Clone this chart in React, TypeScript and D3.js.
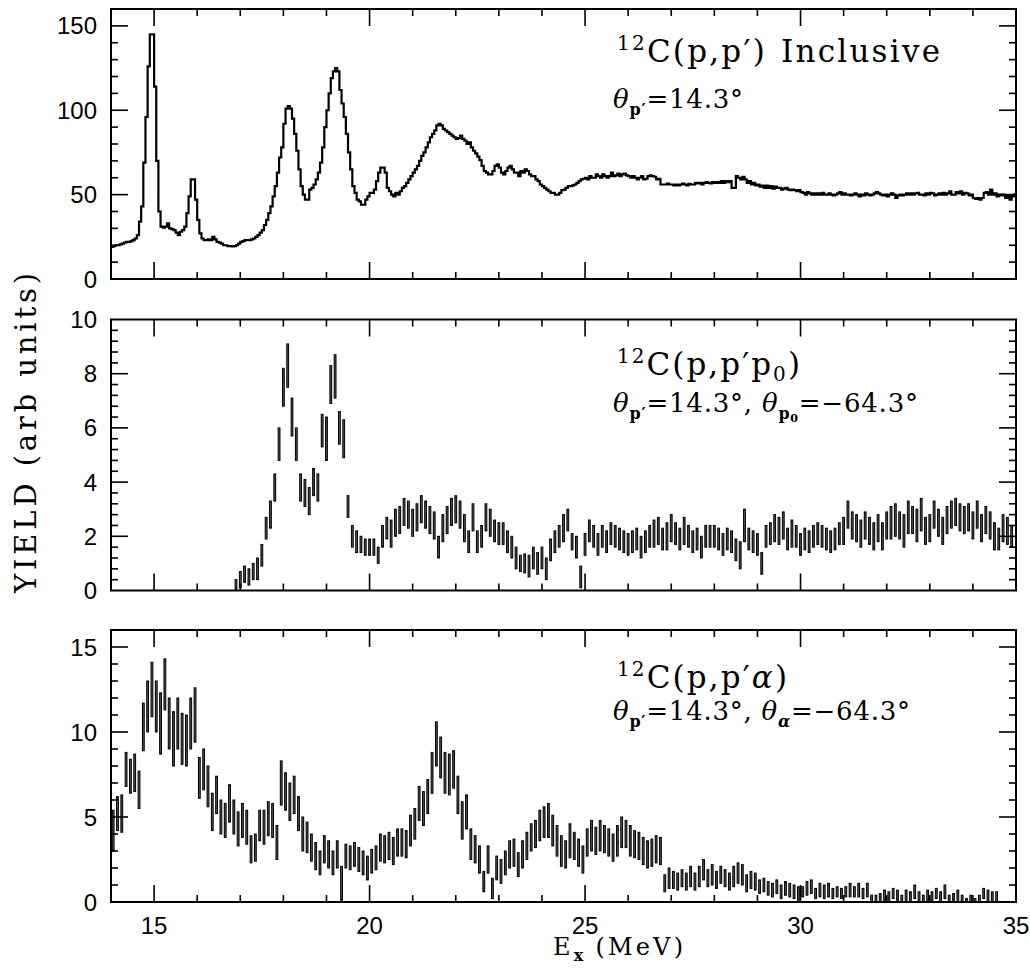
import React from "react";
import * as d3 from "d3";

// ---------- axes ----------
const X_DOMAIN = [14, 35];
const X_MINOR_TICKS = d3.range(14, 35.001, 1);
const X_MAJOR_TICKS = [15, 20, 25, 30];
const X_TICK_LABELS = [15, 20, 25, 30, 35];

const TOP_Y_DOMAIN = [0, 160];
const TOP_Y_MAJOR = [0, 50, 100, 150];
const TOP_Y_MINOR = d3.range(0, 160.01, 10);

const MID_Y_DOMAIN = [0, 10];
const MID_Y_MAJOR = [0, 2, 4, 6, 8, 10];
const MID_Y_MINOR = d3.range(0, 10.01, 0.4);

const BOT_Y_DOMAIN = [0, 16];
const BOT_Y_MAJOR = [0, 5, 10, 15];
const BOT_Y_MINOR = d3.range(0, 16.01, 1);

// ---------- data ----------
// 12C(p,p') inclusive : step histogram, bins of 0.05 MeV starting at 14.0 MeV
const INCL_START = 14.0;
const INCL_STEP = 0.05;
const inclusiveYield = [
  19, 19.5, 20, 20, 20.5, 21, 21.5, 22, 22, 22.5, 23, 24, 26, 34, 43, 69, 96, 126, 145, 145,
  114, 70, 40, 31, 30.5, 31, 33, 30, 29.5, 29, 27.5, 26, 28, 29, 31, 39, 49, 59, 59, 47,
  35, 27, 24, 23, 23, 23.5, 23, 25, 23.5, 22, 21.5, 21, 20, 20, 19.5, 19.5, 19.3, 19.5, 20, 21,
  22, 22.5, 23, 23, 23, 23.5, 24, 25, 26, 27.5, 29, 32, 35, 39, 43, 49, 55, 63, 72, 78,
  92, 101, 102.5, 101, 95, 86, 76, 65, 55, 50, 47, 47, 53, 54, 56, 59, 63, 69, 78, 90,
  100, 110, 119, 123, 125, 123, 112, 104, 96, 86, 75, 65, 55, 51, 47, 46, 44, 44, 47, 49,
  51, 51, 53, 58, 63, 66, 66, 63, 54, 52, 50, 49, 51, 50, 52, 54, 55, 57, 59, 61,
  63, 65, 67, 70, 73, 75, 78, 81, 84, 86, 88, 91, 92, 91, 89, 88, 87, 86, 85, 84,
  83, 83.5, 85, 83, 82, 80, 81, 78, 76, 74.5, 72.5, 70.5, 67, 64, 63, 62, 62, 64, 67, 68,
  66, 63, 62, 64, 66, 67, 65, 63, 63, 61, 64, 63, 65, 64, 62, 61, 61, 59, 58, 56,
  55, 54, 53, 52, 51, 51, 50, 50, 51, 52.7, 53, 54, 55, 55, 55.5, 56, 57, 58, 59, 59.4,
  60, 59, 61, 60, 60, 62, 61, 60, 62, 61, 60, 61, 63, 61, 61.4, 62.5, 61, 62, 62.5, 61.4,
  61, 60, 61, 60, 59, 60, 61, 59, 59.4, 61, 61.4, 61, 60.6, 59, 59.4, 56, 56, 56, 56.6, 56,
  56, 55.4, 56, 55.4, 56, 56.6, 56, 55.4, 56.4, 56, 56, 57, 56.6, 57, 56, 57, 57.4, 57, 56.6, 57.4,
  57, 57.4, 57, 58, 57, 58, 57.4, 58, 54, 54, 61, 60, 59, 60.6, 59, 57, 58, 56, 57, 55.4,
  56, 54.7, 55.4, 54, 55.4, 54, 55, 53.5, 54.7, 54, 54, 53, 53.5, 54, 53, 52.7, 53, 52.7, 52, 52.7,
  51.5, 51, 50, 51.5, 50.7, 50, 50.7, 50, 50.7, 50, 51, 50, 50, 50.7, 50, 49.5, 50, 50.7, 51.5, 50,
  50.7, 50, 50, 49.5, 50, 50.7, 50, 49, 50, 49.5, 50.7, 50, 49.5, 50, 50.7, 51.5, 50.7, 50, 49.5, 50,
  49, 50, 50.7, 50, 48, 49.5, 50, 49.5, 50, 50.7, 50, 50.7, 50, 50.7, 51, 50, 50, 49.5, 50.7, 50,
  51, 50.7, 49.5, 50, 50.7, 50, 51, 50, 50.7, 52, 50, 50, 51.5, 50.7, 52, 50, 51, 50.7, 49.5, 50,
  48, 47.5, 48, 47, 48, 51, 51.5, 50, 53, 50, 50.7, 49, 50, 49.5, 50, 48, 49.5, 47, 49, 50,
];

// 12C(p,p'p0) : points with error bars, bin centres from 16.9 MeV every 0.1 MeV
const P0_START = 16.9;
const P0_STEP = 0.1;
const p0Yield = [
  0.2,
  0.4, 0.6, 0.5, 0.7, 0.8, 1.3, 2.3, 2.8, 3.8, 5.4,
  7.5, 8.3, 6.4, 5.4, 3.8, 3.6, 3.3, 4.0, 3.8, 5.9,
  5.6, 7.6, 7.9, 6.0, 5.6, 3.1, 2.0, 1.8, 1.7, 1.6,
  1.6, 1.6, 1.3, 2.0, 2.3, 2.1, 2.5, 2.6, 2.9, 2.8,
  2.5, 2.7, 3.0, 2.8, 2.6, 2.4, 1.6, 2.3, 2.6, 2.9,
  3.0, 2.8, 2.3, 1.8, 2.7, 1.8, 2.0, 2.7, 2.5, 2.2,
  2.1, 2.1, 1.8, 1.6, 1.2, 1.0, 1.0, 0.9, 1.2, 1.0,
  1.2, 0.8, 1.5, 1.8, 2.0, 2.3, 2.6, 1.8, 1.6, 0.5,
  1.7, 2.2, 2.0, 1.7, 2.0, 1.8, 2.1, 2.0, 1.9, 1.8,
  1.7, 1.8, 1.9, 1.6, 1.8, 2.0, 2.1, 2.2, 1.9, 2.0,
  2.3, 2.1, 1.9, 2.2, 2.0, 1.8, 1.9, 1.6, 2.0, 2.0,
  2.0, 1.9, 1.7, 1.9, 1.8, 1.5, 1.3, 2.4, 1.9, 1.8,
  1.7, 1.0, 2.0, 2.1, 2.3, 2.2, 2.4, 1.9, 2.1, 2.0,
  1.7, 1.9, 1.8, 2.0, 2.1, 2.0, 1.9, 1.8, 1.9, 2.1,
  2.2, 2.8, 2.4, 2.3, 2.1, 2.4, 2.2, 2.0, 2.3, 2.0,
  2.4, 2.5, 2.6, 2.4, 2.2, 2.7, 2.6, 2.4, 2.8, 2.2,
  2.3, 2.8, 2.5, 2.2, 2.6, 2.8, 2.9, 2.7, 2.6, 2.7,
  2.4, 2.8, 2.3, 2.6, 2.4, 2.0, 1.9, 2.3, 2.2, 2.0,
];
const p0Err = [
  0.2,
  0.3, 0.3, 0.3, 0.3, 0.4, 0.4, 0.4, 0.5, 0.5, 0.6,
  0.7, 0.8, 0.7, 0.6, 0.5, 0.5, 0.5, 0.5, 0.5, 0.6,
  0.8, 0.7, 0.8, 0.6, 0.7, 0.4, 0.4, 0.4, 0.3, 0.3,
  0.3, 0.3, 0.3, 0.4, 0.4, 0.5, 0.5, 0.5, 0.5, 0.5,
  0.5, 0.5, 0.5, 0.5, 0.5, 0.5, 0.4, 0.5, 0.5, 0.5,
  0.5, 0.5, 0.5, 0.4, 0.5, 0.4, 0.4, 0.5, 0.5, 0.4,
  0.4, 0.4, 0.4, 0.4, 0.4, 0.3, 0.35, 0.4, 0.4, 0.4,
  0.4, 0.4, 0.4, 0.4, 0.4, 0.5, 0.4, 0.3, 0.4, 0.4,
  0.4, 0.4, 0.4, 0.4, 0.4, 0.4, 0.4, 0.4, 0.4, 0.4,
  0.4, 0.4, 0.4, 0.4, 0.4, 0.4, 0.5, 0.5, 0.4, 0.5,
  0.5, 0.4, 0.4, 0.5, 0.4, 0.4, 0.4, 0.4, 0.4, 0.4,
  0.4, 0.4, 0.4, 0.4, 0.4, 0.4, 0.5, 0.6, 0.4, 0.4,
  0.4, 0.4, 0.4, 0.4, 0.5, 0.5, 0.5, 0.4, 0.5, 0.4,
  0.4, 0.4, 0.4, 0.4, 0.4, 0.4, 0.4, 0.4, 0.4, 0.4,
  0.5, 0.5, 0.5, 0.5, 0.5, 0.5, 0.5, 0.5, 0.5, 0.5,
  0.5, 0.6, 0.6, 0.5, 0.6, 0.6, 0.5, 0.6, 0.6, 0.5,
  0.5, 0.5, 0.5, 0.5, 0.5, 0.5, 0.5, 0.5, 0.5, 0.5,
  0.5, 0.5, 0.5, 0.5, 0.5, 0.5, 0.4, 0.5, 0.5, 0.4,
];

// 12C(p,p'alpha) : points with error bars, bin centres from 14.05 MeV every 0.1 MeV
const ALPHA_START = 14.05;
const ALPHA_STEP = 0.1;
const alphaYield = [
  4.2, 5.2, 5.2, 7.8, 7.4, 7.6, 6.6, 10.3, 11.5, 12.5,
  11.5, 10.5, 12.8, 10.5, 9.6, 10.5, 9.6, 9.5, 10.5, 11.0,
  7.3, 7.8, 6.8, 5.3, 6.3, 5.0, 4.8, 5.8, 5.0, 4.3,
  4.8, 4.4, 3.1, 3.2, 4.5, 4.4, 4.9, 4.8, 3.5, 7.0,
  6.5, 5.9, 6.3, 5.2, 4.0, 3.8, 3.2, 2.7, 2.3, 3.1,
  2.8, 2.3, 2.8, 1.1, 2.7, 2.6, 2.8, 2.5, 2.3, 2.0,
  2.4, 2.6, 3.2, 3.1, 3.3, 3.0, 3.5, 3.5, 3.4, 4.2,
  4.6, 5.8, 5.5, 6.2, 7.6, 9.3, 8.5, 7.6, 7.5, 7.8,
  6.3, 4.8, 5.3, 3.4, 3.1, 2.5, 1.2, 2.5, 0.8, 2.0,
  1.8, 2.3, 2.8, 2.9, 2.2, 2.8, 3.3, 3.8, 4.0, 4.5,
  4.7, 4.8, 4.2, 3.6, 3.0, 2.8, 3.6, 3.3, 2.9, 2.5,
  3.5, 3.9, 3.6, 3.9, 3.7, 3.5, 3.2, 3.6, 4.1, 4.0,
  3.6, 3.4, 3.3, 3.0, 2.8, 2.9, 3.1, 3.0, 1.1, 1.4,
  1.3, 1.2, 1.4, 1.2, 1.5, 1.2, 1.5, 1.9, 1.4, 1.6,
  1.3, 1.6, 1.4, 1.2, 1.5, 1.7, 1.6, 1.1, 1.3, 1.2,
  0.9, 1.0, 0.8, 0.7, 0.9, 0.6, 0.8, 0.7, 0.6, 0.5,
  0.6, 0.8, 0.9, 0.5, 0.7, 0.6, 0.7, 0.5, 0.6, 0.5,
  0.6, 0.7, 0.6, 0.7, 0.5, 0.7, 0.2, 0.2, 0.3, 0.4,
  0.3, 0.5, 0.4, 0.2, 0.4, 0.3, 0.6, 0.3, 0.2, 0.4,
  0.3, 0.5, 0.3, 0.6, 0.2, 0.3, 0.4, 0.2, 0.1, 0.2,
  0.1, 0.2, 0.5, 0.4, 0.3, 0.3,
];
const alphaErr = [
  1.2, 1.0, 1.1, 1.0, 1.0, 1.1, 1.1, 1.4, 1.5, 1.6,
  1.5, 1.8, 1.5, 1.5, 1.6, 1.5, 1.5, 1.5, 1.5, 1.6,
  1.2, 1.2, 1.2, 1.1, 1.1, 1.0, 1.0, 1.1, 1.0, 1.0,
  1.0, 1.0, 0.8, 0.8, 0.9, 1.0, 1.0, 1.0, 1.0, 1.3,
  1.1, 1.1, 1.1, 1.0, 1.0, 0.9, 0.8, 0.8, 0.7, 0.8,
  0.8, 0.7, 0.8, 1.0, 0.7, 0.7, 0.7, 0.7, 0.7, 0.7,
  0.7, 0.7, 0.8, 0.8, 0.8, 0.8, 0.8, 0.8, 0.8, 0.9,
  0.9, 1.0, 1.0, 1.0, 1.2, 1.3, 1.2, 1.2, 1.2, 1.1,
  1.1, 1.1, 1.0, 0.9, 0.8, 0.8, 0.6, 0.8, 0.6, 0.7,
  0.7, 0.7, 0.8, 0.8, 0.7, 0.8, 0.8, 0.8, 0.8, 0.9,
  0.9, 1.0, 0.9, 0.9, 0.9, 0.8, 1.0, 0.8, 0.8, 0.8,
  0.8, 0.9, 0.8, 0.9, 0.8, 0.8, 0.8, 0.9, 0.9, 0.8,
  0.9, 0.8, 0.8, 0.8, 0.8, 0.8, 0.8, 0.8, 0.5, 0.6,
  0.5, 0.5, 0.5, 0.5, 0.6, 0.5, 0.6, 0.6, 0.5, 0.6,
  0.5, 0.5, 0.5, 0.5, 0.6, 0.6, 0.6, 0.5, 0.5, 0.5,
  0.4, 0.4, 0.4, 0.4, 0.4, 0.4, 0.4, 0.4, 0.4, 0.4,
  0.3, 0.4, 0.4, 0.3, 0.4, 0.4, 0.4, 0.3, 0.3, 0.3,
  0.3, 0.4, 0.3, 0.4, 0.3, 0.4, 0.2, 0.2, 0.2, 0.3,
  0.3, 0.3, 0.3, 0.2, 0.3, 0.3, 0.4, 0.3, 0.2, 0.3,
  0.3, 0.3, 0.3, 0.4, 0.2, 0.2, 0.3, 0.2, 0.1, 0.2,
  0.1, 0.2, 0.3, 0.3, 0.3, 0.3,
];

// ---------- layout ----------
const W = 1030;
const H = 971;
const LEFT = 111;
const RIGHT = 1016;
const PANELS = {
  top: { y0: 279, y1: 9 },
  mid: { y0: 590.5, y1: 319.5 },
  bot: { y0: 902, y1: 630 },
};
const MAJOR_LEN = 17;
const MINOR_LEN = 7;
const SERIF = "'DejaVu Serif', serif";
const SANS = "'Liberation Sans', Arial, sans-serif";

const x = d3.scaleLinear().domain(X_DOMAIN).range([LEFT, RIGHT]);

function Frame({ y, major, minor }: { y: d3.ScaleLinear<number, number>; major: number[]; minor: number[] }) {
  const [b, t] = y.range();
  const ticks: React.ReactNode[] = [];
  X_MINOR_TICKS.forEach((v, i) => {
    if (v === X_DOMAIN[0] || v === X_DOMAIN[1]) return;
    const len = X_MAJOR_TICKS.includes(v) ? MAJOR_LEN : MINOR_LEN;
    ticks.push(<line key={"xb" + i} x1={x(v)} x2={x(v)} y1={b} y2={b - len} />);
    ticks.push(<line key={"xt" + i} x1={x(v)} x2={x(v)} y1={t} y2={t + len} />);
  });
  minor.forEach((v, i) => {
    const yy = y(v);
    if (Math.abs(yy - b) < 0.5 || Math.abs(yy - t) < 0.5) return;
    const len = major.some((m) => Math.abs(m - v) < 1e-6) ? MAJOR_LEN : MINOR_LEN;
    ticks.push(<line key={"yl" + i} x1={LEFT} x2={LEFT + len} y1={yy} y2={yy} />);
    ticks.push(<line key={"yr" + i} x1={RIGHT} x2={RIGHT - len} y1={yy} y2={yy} />);
  });
  return (
    <g stroke="#000" fill="none">
      <g strokeWidth={1.6}>{ticks}</g>
      <rect x={LEFT} y={t} width={RIGHT - LEFT} height={b - t} strokeWidth={2} />
    </g>
  );
}

function YLabels({ y, values }: { y: d3.ScaleLinear<number, number>; values: number[] }) {
  return (
    <g fontFamily={SANS} fontSize={24} textAnchor="end" fill="#000">
      {values.map((v) => (
        <text key={v} x={97} y={y(v) + 8.5}>
          {v}
        </text>
      ))}
    </g>
  );
}

function ErrorBars({
  y,
  start,
  step,
  vals,
  errs,
}: {
  y: d3.ScaleLinear<number, number>;
  start: number;
  step: number;
  vals: number[];
  errs: number[];
}) {
  const [lo, hi] = y.domain();
  const w = (x(step) - x(0)) * 0.42;
  return (
    <g stroke="#000" strokeWidth={1} fill="#555">
      {vals.map((v, i) => {
        const e = start + i * step;
        const a = Math.max(lo, v - errs[i]);
        const bTop = Math.min(hi, v + errs[i]);
        return (
          <rect key={i} x={x(e) - w / 2} y={y(bTop)} width={w} height={Math.max(0.5, y(a) - y(bTop))} />
        );
      })}
    </g>
  );
}

export default function App() {
  const yTop = d3.scaleLinear().domain(TOP_Y_DOMAIN).range([PANELS.top.y0, PANELS.top.y1]);
  const yMid = d3.scaleLinear().domain(MID_Y_DOMAIN).range([PANELS.mid.y0, PANELS.mid.y1]);
  const yBot = d3.scaleLinear().domain(BOT_Y_DOMAIN).range([PANELS.bot.y0, PANELS.bot.y1]);

  const histPts: [number, number][] = inclusiveYield.map((v, i) => [INCL_START + i * INCL_STEP, v]);
  histPts.push([INCL_START + inclusiveYield.length * INCL_STEP, inclusiveYield[inclusiveYield.length - 1]]);
  const histPath = d3
    .line<[number, number]>()
    .x((d) => x(d[0]))
    .y((d) => yTop(d[1]))
    .curve(d3.curveStepAfter)(histPts);

  return (
    <svg
      width={W}
      height={H}
      viewBox={`0 0 ${W} ${H}`}
      style={{ position: "absolute", left: 0, top: 0, background: "#fff" }}
    >
      <rect x={0} y={0} width={W} height={H} fill="#fff" />

      {/* top panel */}
      <path d={histPath || ""} fill="none" stroke="#000" strokeWidth={2.2} strokeLinejoin="miter" />
      <Frame y={yTop} major={TOP_Y_MAJOR} minor={TOP_Y_MINOR} />
      <YLabels y={yTop} values={TOP_Y_MAJOR} />

      {/* middle panel */}
      <ErrorBars y={yMid} start={P0_START} step={P0_STEP} vals={p0Yield} errs={p0Err} />
      <Frame y={yMid} major={MID_Y_MAJOR} minor={MID_Y_MINOR} />
      <YLabels y={yMid} values={MID_Y_MAJOR} />

      {/* bottom panel */}
      <ErrorBars y={yBot} start={ALPHA_START} step={ALPHA_STEP} vals={alphaYield} errs={alphaErr} />
      <Frame y={yBot} major={BOT_Y_MAJOR} minor={BOT_Y_MINOR} />
      <YLabels y={yBot} values={BOT_Y_MAJOR} />

      {/* x tick labels */}
      <g fontFamily={SANS} fontSize={24} textAnchor="middle" fill="#000">
        {X_TICK_LABELS.map((v) => (
          <text key={v} x={x(v)} y={934}>
            {v}
          </text>
        ))}
      </g>

      {/* x axis title */}
      <text x={553} y={955} fontFamily={SERIF} fontSize={24} fill="#000" textLength={130} lengthAdjust="spacing">
        E
        <tspan fontSize={16} fontWeight="bold" dy={6}>
          x
        </tspan>
        <tspan dy={-6} dx={9}>
          (MeV)
        </tspan>
      </text>

      {/* y axis title */}
      <text
        transform="translate(36,433) rotate(-90)"
        textAnchor="middle"
        fontFamily={SERIF}
        fontSize={29}
        fill="#000"
        textLength={320}
        lengthAdjust="spacing"
      >
        YIELD (arb units)
      </text>

      {/* annotations */}
      <g fontFamily={SERIF} fill="#000">
        {/* top */}
        <text x={617} y={62} fontSize={31} textLength={323} lengthAdjust="spacing">
          <tspan fontSize={20} dy={-12}>12</tspan>
          <tspan dy={12}>C(p,p′)</tspan>
          <tspan dx={14}>Inclusive</tspan>
        </text>
        <text x={613} y={108} fontSize={26} textLength={130} lengthAdjust="spacing">
          <tspan fontStyle="italic">θ</tspan>
          <tspan fontSize={16} fontWeight="bold" dy={7}>p′</tspan>
          <tspan dy={-7}>=14.3°</tspan>
        </text>

        {/* middle */}
        <text x={617} y={375} fontSize={31} textLength={183} lengthAdjust="spacing">
          <tspan fontSize={20} dy={-12}>12</tspan>
          <tspan dy={12}>C(p,p′p</tspan>
          <tspan fontSize={20} dy={6}>0</tspan>
          <tspan dy={-6}>)</tspan>
        </text>
        <text x={613} y={412} fontSize={26} textLength={305} lengthAdjust="spacing">
          <tspan fontStyle="italic">θ</tspan>
          <tspan fontSize={16} fontWeight="bold" dy={7}>p′</tspan>
          <tspan dy={-7}>=14.3°, </tspan>
          <tspan fontStyle="italic">θ</tspan>
          <tspan fontSize={16} fontWeight="bold" dy={7}>p</tspan>
          <tspan fontSize={11} fontWeight="bold" dy={3}>0</tspan>
          <tspan dy={-10}>=−64.3°</tspan>
        </text>

        {/* bottom */}
        <text x={617} y={688} fontSize={31} textLength={170} lengthAdjust="spacing">
          <tspan fontSize={20} dy={-12}>12</tspan>
          <tspan dy={12}>C(p,p′</tspan>
          <tspan fontStyle="italic">α</tspan>
          <tspan>)</tspan>
        </text>
        <text x={613} y={720} fontSize={26} textLength={297} lengthAdjust="spacing">
          <tspan fontStyle="italic">θ</tspan>
          <tspan fontSize={16} fontWeight="bold" dy={7}>p′</tspan>
          <tspan dy={-7}>=14.3°, </tspan>
          <tspan fontStyle="italic">θ</tspan>
          <tspan fontSize={16} fontWeight="bold" fontStyle="italic" dy={7}>α</tspan>
          <tspan dy={-7}>=−64.3°</tspan>
        </text>
      </g>
    </svg>
  );
}
